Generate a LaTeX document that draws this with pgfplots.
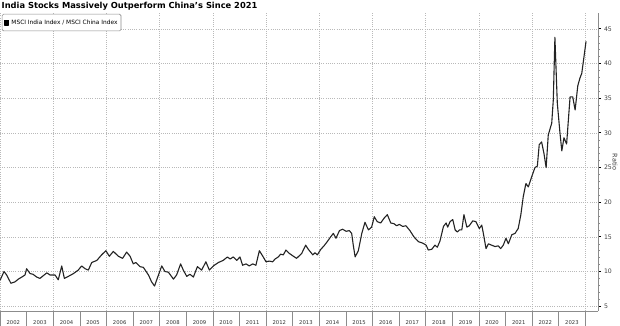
\documentclass[border=0pt]{standalone}
\usepackage{fontspec}
\setmainfont{DejaVu Sans}
\usepackage{pgfplots}
\pgfplotsset{compat=1.18}
\definecolor{gridc}{RGB}{185,185,185}
\definecolor{linec}{RGB}{35,35,35}
\definecolor{axc}{RGB}{140,140,140}
\begin{document}
\begin{tikzpicture}
\useasboundingbox (0,0) rectangle (620bp,326bp);
\node[anchor=west, font=\bfseries\fontsize{8.35}{10}\selectfont, inner sep=0pt] at (1.5bp,319.5bp) {India Stocks Massively Outperform China's Since 2021};
\begin{axis}[
  at={(0bp,15bp)}, anchor=south west,
  scale only axis, width=598bp, height=298bp,
  xmin=0, xmax=22.48, ymin=4.3, ymax=47.3,
  axis x line=bottom, axis y line=right,
  axis line style={draw=axc, line width=0.6bp, -},
  clip=false,
  /pgf/number format/assume math mode=true,
  xtick={0.5,1.5,...,21.5},
  xticklabels={2002,2003,2004,2005,2006,2007,2008,2009,2010,2011,2012,2013,2014,2015,2016,2017,2018,2019,2020,2021,2022,2023},
  x tick style={draw=none},
  xticklabel style={font=\fontsize{5.3}{6}\selectfont, text=black!80, anchor=center, yshift=-8.5bp},
  extra x ticks={0,2,...,22},
  extra x tick labels={},
  extra x tick style={grid=major, major tick length=0pt},
  ytick={5,10,...,45},
  minor y tick num=4,
  tick align=outside,
  major tick length=3bp, minor tick length=1.8bp,
  y tick style={black, line width=0.9bp},
  minor y tick style={axc, line width=0.5bp},
  yticklabel style={font=\fontsize{6.2}{7}\selectfont, text=black!75, xshift=-0.5bp},
  ymajorgrids,
  major grid style={draw=gridc, line width=0.6bp, dash pattern=on 0.8bp off 1.4bp},
  legend style={at={(0.003,0.997)}, anchor=north west, draw=black!45, line width=0.6bp, rounded corners=1.5bp,
    font=\fontsize{5.9}{7}\selectfont, inner xsep=1.5bp, inner ysep=3.4bp, fill=white},
  legend cell align=left,
]
\addplot[linec, line width=1.1bp, line join=round,
  legend image code/.code={\fill[black, sharp corners] (0bp,-2.4bp) rectangle (4.8bp,2.4bp);}] coordinates {
(0.00,8.7)(0.15,10.0)(0.25,9.5)(0.41,8.3)(0.56,8.5)(0.69,8.9)(0.82,9.2)(0.94,9.5)
(1.00,10.4)(1.13,9.7)(1.24,9.6)(1.38,9.2)(1.50,9.0)(1.63,9.4)(1.76,9.8)(1.88,9.5)
(2.07,9.5)(2.19,8.8)(2.32,10.8)(2.42,9.0)(2.57,9.3)(2.76,9.7)(2.94,10.2)
(3.07,10.8)(3.20,10.4)(3.32,10.2)(3.45,11.3)(3.64,11.6)(3.82,12.4)(3.98,13.0)
(4.11,12.2)(4.26,12.9)(4.45,12.2)(4.61,11.9)(4.76,12.8)(4.89,12.2)
(5.01,11.1)(5.11,11.3)(5.26,10.7)(5.39,10.6)(5.58,9.5)(5.70,8.5)(5.81,7.9)(5.91,9.0)
(6.08,10.8)(6.20,10.0)(6.33,9.9)(6.52,8.9)(6.64,9.5)(6.79,11.1)(6.89,10.2)
(7.02,9.3)(7.14,9.6)(7.27,9.2)(7.42,10.7)(7.58,10.2)(7.74,11.4)(7.87,10.2)
(8.02,10.8)(8.21,11.3)(8.39,11.6)(8.55,12.1)(8.65,11.8)(8.77,12.1)(8.90,11.6)
(9.02,12.1)(9.12,10.9)(9.25,11.1)(9.37,10.8)(9.50,11.1)(9.62,10.9)(9.75,13.0)(9.88,12.2)
(10.00,11.4)(10.12,11.5)(10.25,11.4)(10.34,11.8)(10.46,12.1)(10.55,12.5)(10.65,12.4)(10.75,13.1)(10.88,12.6)
(11.03,12.2)(11.15,11.9)(11.34,12.6)(11.49,13.8)(11.59,13.2)(11.76,12.4)(11.84,12.7)(11.93,12.4)
(12.06,13.2)(12.18,13.7)(12.30,14.3)(12.43,15.0)(12.53,15.5)(12.63,14.8)(12.76,15.9)(12.88,16.1)
(13.01,15.8)(13.13,15.9)(13.22,15.5)(13.28,13.8)(13.35,12.1)(13.47,13.0)(13.60,15.5)(13.72,17.1)(13.85,16.0)(13.97,16.4)
(14.07,17.9)(14.18,17.2)(14.31,17.0)(14.44,17.7)(14.56,18.2)(14.69,17.0)(14.81,16.9)(14.91,16.6)
(15.01,16.8)(15.14,16.5)(15.26,16.6)(15.41,15.9)(15.56,15.0)(15.73,14.3)(15.89,14.1)
(16.02,13.8)(16.10,13.1)(16.23,13.2)(16.35,13.8)(16.44,13.5)(16.54,14.4)(16.67,16.5)(16.77,17.0)(16.83,16.4)(16.92,17.2)
(17.02,17.5)(17.11,16.0)(17.19,15.7)(17.27,16.0)(17.36,16.0)(17.44,18.2)(17.55,16.4)(17.64,16.6)(17.77,17.3)(17.89,17.2)
(18.02,16.2)(18.11,16.7)(18.17,15.5)(18.27,13.3)(18.36,14.0)(18.48,13.8)(18.61,13.6)(18.73,13.7)(18.82,13.3)(18.92,13.8)
(19.02,14.8)(19.11,14.0)(19.24,15.3)(19.36,15.5)(19.48,16.2)(19.58,18.2)(19.67,20.8)(19.77,22.7)(19.86,22.2)(19.99,23.7)
(20.11,25.0)(20.20,25.2)(20.27,28.3)(20.36,28.7)(20.45,27.0)(20.53,25.0)(20.61,29.7)(20.74,31.4)(20.80,34.8)(20.86,43.8)(20.95,34.3)(21.05,30.0)
(21.12,27.4)(21.20,29.3)(21.30,28.4)(21.43,35.2)(21.53,35.2)(21.62,33.3)(21.72,36.8)(21.80,37.9)(21.87,38.6)(22.03,43.2)
};
\addlegendentry{MSCI India Index / MSCI China Index}
\pgfplotsinvokeforeach{0,...,22}{\draw[axc, line width=0.5bp] (axis cs:#1,4.3) -- ++(0,-15bp);}
\node[xshift=17bp, rotate=-90, font=\fontsize{6.5}{7}\selectfont, text=black!75] at (rel axis cs:1,0.5) {Ratio};
\end{axis}
\end{tikzpicture}
\end{document}
